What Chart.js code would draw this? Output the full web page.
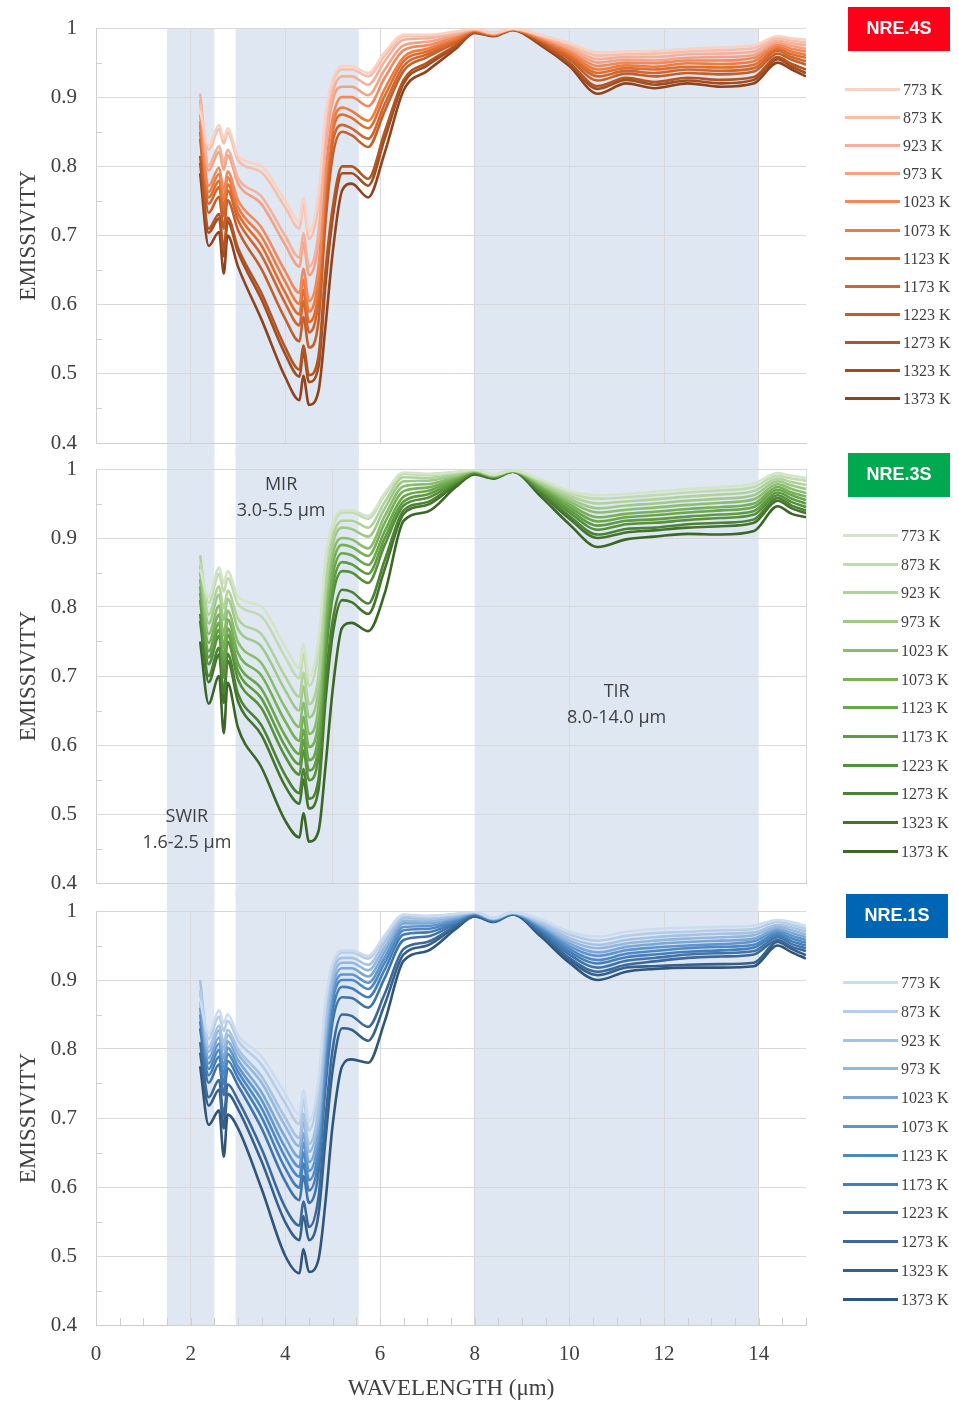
<!DOCTYPE html>
<html>
<head>
<meta charset="utf-8">
<title>Emissivity spectra</title>
<script src="https://cdn.jsdelivr.net/npm/chart.js@4.4.1/dist/chart.umd.min.js"></script>
<style>
  html, body { margin: 0; padding: 0; background: #ffffff; }
  #figure { position: relative; width: 959px; height: 1403px; overflow: hidden; }
  #figure canvas { position: absolute; left: 0; }
</style>
</head>
<body>
<div id="figure">
  <canvas id="panel4s" width="959" height="456" style="top:0px"></canvas>
  <canvas id="panel3s" width="959" height="449" style="top:448px"></canvas>
  <canvas id="panel1s" width="959" height="513" style="top:890px"></canvas>
</div>
<script>
// wavelength (µm) shared by every curve
const wavelength = [2.2, 2.38, 2.6, 2.7, 2.78, 3.0, 3.5, 4.0, 4.3, 4.38, 4.5, 4.7, 4.85, 5.0, 5.2, 5.4, 5.75, 6.1, 6.5, 7.0,
  7.6, 8.0, 8.4, 8.8, 9.4, 10.0, 10.6, 11.2, 11.8, 12.5, 13.2, 13.9, 14.4, 14.7, 15.0];

const temperatures = ['773 K', '873 K', '923 K', '973 K', '1023 K', '1073 K', '1123 K', '1173 K', '1223 K', '1273 K', '1323 K', '1373 K'];

// spectral windows (µm)
const bandRanges = [[1.5, 2.5], [2.95, 5.55], [8, 14]];
const bandLabels = [
  { lines: ['SWIR', '1.6-2.5 μm'], x: 1.92, y: 0.496 },
  { lines: ['MIR', '3.0-5.5 μm'], x: 3.91, y: 0.977 },
  { lines: ['TIR', '8.0-14.0 μm'], x: 11.0, y: 0.677 }
];

const xTicksEven = [0, 2, 4, 6, 8, 10, 12, 14];
const xTicksFive = [0, 5, 10, 15];

// NRE.4S, one row per temperature
const emissivity4S = [
  [0.88, 0.83, 0.86, 0.84, 0.855, 0.815, 0.80, 0.75, 0.72, 0.755, 0.705, 0.76, 0.875, 0.925, 0.945, 0.945, 0.935, 0.965, 0.99, 0.99, 0.995, 0.999, 0.993, 0.999, 0.99, 0.978, 0.965, 0.966, 0.967, 0.97, 0.972, 0.975, 0.988, 0.985, 0.983],
  [0.89, 0.824, 0.854, 0.833, 0.849, 0.809, 0.791, 0.74, 0.71, 0.745, 0.695, 0.745, 0.865, 0.92, 0.94, 0.94, 0.93, 0.96, 0.988, 0.988, 0.994, 0.999, 0.993, 0.999, 0.989, 0.976, 0.96, 0.962, 0.963, 0.966, 0.968, 0.971, 0.985, 0.982, 0.979],
  [0.905, 0.801, 0.829, 0.805, 0.824, 0.783, 0.756, 0.699, 0.668, 0.703, 0.655, 0.705, 0.835, 0.905, 0.93, 0.93, 0.918, 0.952, 0.983, 0.985, 0.992, 0.998, 0.992, 0.999, 0.988, 0.973, 0.955, 0.958, 0.958, 0.962, 0.963, 0.966, 0.982, 0.978, 0.975],
  [0.895, 0.794, 0.821, 0.795, 0.816, 0.775, 0.745, 0.686, 0.655, 0.69, 0.643, 0.69, 0.825, 0.895, 0.915, 0.915, 0.903, 0.94, 0.975, 0.98, 0.99, 0.998, 0.992, 0.999, 0.987, 0.97, 0.95, 0.954, 0.953, 0.957, 0.958, 0.961, 0.979, 0.974, 0.97],
  [0.875, 0.772, 0.798, 0.765, 0.793, 0.751, 0.711, 0.648, 0.617, 0.652, 0.605, 0.655, 0.79, 0.87, 0.9, 0.9, 0.887, 0.928, 0.968, 0.975, 0.988, 0.997, 0.991, 0.999, 0.986, 0.967, 0.945, 0.95, 0.949, 0.953, 0.953, 0.957, 0.976, 0.97, 0.966],
  [0.865, 0.763, 0.789, 0.752, 0.784, 0.741, 0.698, 0.633, 0.601, 0.636, 0.59, 0.64, 0.78, 0.86, 0.885, 0.88, 0.866, 0.912, 0.958, 0.97, 0.985, 0.997, 0.991, 0.998, 0.984, 0.964, 0.94, 0.946, 0.944, 0.949, 0.948, 0.952, 0.973, 0.966, 0.961],
  [0.86, 0.755, 0.779, 0.74, 0.774, 0.732, 0.685, 0.617, 0.586, 0.621, 0.575, 0.62, 0.765, 0.85, 0.875, 0.87, 0.855, 0.902, 0.952, 0.966, 0.983, 0.996, 0.99, 0.998, 0.983, 0.961, 0.935, 0.942, 0.94, 0.944, 0.943, 0.947, 0.97, 0.962, 0.957],
  [0.85, 0.746, 0.77, 0.728, 0.765, 0.722, 0.671, 0.602, 0.57, 0.605, 0.56, 0.605, 0.75, 0.835, 0.86, 0.855, 0.84, 0.89, 0.945, 0.962, 0.981, 0.996, 0.99, 0.998, 0.982, 0.958, 0.93, 0.938, 0.935, 0.94, 0.938, 0.942, 0.967, 0.958, 0.952],
  [0.84, 0.733, 0.756, 0.71, 0.751, 0.708, 0.651, 0.579, 0.547, 0.582, 0.538, 0.575, 0.72, 0.815, 0.85, 0.845, 0.828, 0.88, 0.938, 0.958, 0.979, 0.995, 0.99, 0.998, 0.981, 0.955, 0.924, 0.934, 0.93, 0.935, 0.933, 0.937, 0.963, 0.954, 0.947],
  [0.815, 0.71, 0.731, 0.68, 0.726, 0.682, 0.616, 0.538, 0.506, 0.541, 0.498, 0.525, 0.65, 0.74, 0.8, 0.8, 0.782, 0.85, 0.925, 0.95, 0.975, 0.994, 0.989, 0.998, 0.978, 0.95, 0.916, 0.928, 0.922, 0.928, 0.925, 0.929, 0.958, 0.948, 0.94],
  [0.805, 0.704, 0.725, 0.67, 0.72, 0.676, 0.607, 0.528, 0.496, 0.531, 0.488, 0.51, 0.63, 0.725, 0.79, 0.79, 0.772, 0.84, 0.92, 0.946, 0.973, 0.994, 0.989, 0.998, 0.977, 0.948, 0.912, 0.925, 0.918, 0.924, 0.92, 0.925, 0.955, 0.944, 0.935],
  [0.79, 0.685, 0.705, 0.645, 0.70, 0.655, 0.578, 0.495, 0.462, 0.497, 0.455, 0.475, 0.57, 0.675, 0.765, 0.775, 0.755, 0.82, 0.91, 0.938, 0.97, 0.993, 0.988, 0.997, 0.975, 0.945, 0.905, 0.92, 0.913, 0.92, 0.915, 0.92, 0.95, 0.94, 0.93]
];

// NRE.3S
const emissivity3S = [
  [0.855, 0.815, 0.857, 0.835, 0.852, 0.815, 0.80, 0.742, 0.712, 0.747, 0.70, 0.752, 0.87, 0.92, 0.94, 0.94, 0.932, 0.965, 0.995, 0.993, 0.996, 0.999, 0.992, 0.998, 0.985, 0.968, 0.962, 0.964, 0.967, 0.971, 0.974, 0.979, 0.994, 0.99, 0.987],
  [0.865, 0.806, 0.848, 0.822, 0.842, 0.804, 0.786, 0.727, 0.697, 0.732, 0.686, 0.735, 0.86, 0.915, 0.937, 0.937, 0.928, 0.962, 0.993, 0.991, 0.995, 0.999, 0.992, 0.998, 0.983, 0.965, 0.957, 0.959, 0.962, 0.966, 0.969, 0.974, 0.99, 0.986, 0.983],
  [0.875, 0.789, 0.83, 0.798, 0.824, 0.783, 0.76, 0.699, 0.67, 0.705, 0.659, 0.70, 0.83, 0.90, 0.925, 0.925, 0.915, 0.952, 0.988, 0.987, 0.993, 0.998, 0.991, 0.998, 0.981, 0.961, 0.95, 0.953, 0.956, 0.96, 0.963, 0.968, 0.986, 0.981, 0.977],
  [0.86, 0.776, 0.818, 0.781, 0.812, 0.768, 0.742, 0.679, 0.65, 0.685, 0.64, 0.68, 0.815, 0.89, 0.915, 0.913, 0.902, 0.943, 0.982, 0.983, 0.991, 0.998, 0.991, 0.998, 0.979, 0.957, 0.943, 0.947, 0.95, 0.954, 0.957, 0.962, 0.982, 0.976, 0.971],
  [0.85, 0.761, 0.802, 0.759, 0.795, 0.749, 0.718, 0.654, 0.626, 0.661, 0.616, 0.655, 0.795, 0.875, 0.90, 0.898, 0.885, 0.932, 0.975, 0.978, 0.989, 0.997, 0.99, 0.997, 0.977, 0.953, 0.937, 0.941, 0.944, 0.948, 0.951, 0.956, 0.978, 0.971, 0.965],
  [0.84, 0.748, 0.789, 0.741, 0.782, 0.733, 0.70, 0.634, 0.606, 0.641, 0.597, 0.635, 0.775, 0.86, 0.89, 0.887, 0.874, 0.922, 0.968, 0.973, 0.987, 0.997, 0.99, 0.997, 0.975, 0.949, 0.93, 0.935, 0.938, 0.942, 0.945, 0.95, 0.974, 0.966, 0.96],
  [0.83, 0.736, 0.777, 0.724, 0.769, 0.718, 0.681, 0.613, 0.587, 0.622, 0.578, 0.615, 0.76, 0.845, 0.878, 0.875, 0.861, 0.91, 0.96, 0.968, 0.985, 0.996, 0.989, 0.997, 0.973, 0.945, 0.924, 0.93, 0.933, 0.937, 0.94, 0.945, 0.97, 0.962, 0.955],
  [0.82, 0.727, 0.767, 0.711, 0.76, 0.707, 0.667, 0.598, 0.572, 0.607, 0.563, 0.598, 0.745, 0.83, 0.865, 0.862, 0.848, 0.90, 0.953, 0.963, 0.983, 0.996, 0.989, 0.997, 0.971, 0.941, 0.918, 0.925, 0.927, 0.931, 0.934, 0.939, 0.966, 0.957, 0.95],
  [0.81, 0.717, 0.758, 0.698, 0.75, 0.695, 0.653, 0.583, 0.557, 0.592, 0.549, 0.582, 0.725, 0.815, 0.852, 0.85, 0.835, 0.89, 0.947, 0.958, 0.981, 0.995, 0.988, 0.997, 0.969, 0.937, 0.912, 0.92, 0.922, 0.926, 0.929, 0.934, 0.962, 0.952, 0.945],
  [0.79, 0.70, 0.741, 0.674, 0.732, 0.674, 0.628, 0.556, 0.53, 0.565, 0.522, 0.55, 0.69, 0.78, 0.825, 0.822, 0.805, 0.868, 0.94, 0.952, 0.979, 0.994, 0.988, 0.996, 0.966, 0.932, 0.905, 0.913, 0.915, 0.92, 0.922, 0.927, 0.958, 0.947, 0.94],
  [0.78, 0.691, 0.731, 0.661, 0.722, 0.663, 0.614, 0.54, 0.515, 0.55, 0.508, 0.535, 0.665, 0.76, 0.81, 0.807, 0.79, 0.855, 0.935, 0.948, 0.977, 0.994, 0.987, 0.996, 0.964, 0.928, 0.90, 0.908, 0.911, 0.915, 0.917, 0.922, 0.954, 0.943, 0.936],
  [0.75, 0.66, 0.70, 0.617, 0.69, 0.625, 0.567, 0.49, 0.466, 0.501, 0.46, 0.475, 0.57, 0.68, 0.77, 0.777, 0.765, 0.82, 0.925, 0.938, 0.974, 0.992, 0.986, 0.996, 0.96, 0.92, 0.887, 0.898, 0.902, 0.906, 0.905, 0.91, 0.946, 0.935, 0.93]
];

// NRE.1S
const emissivity1S = [
  [0.87, 0.823, 0.856, 0.838, 0.85, 0.82, 0.789, 0.735, 0.705, 0.74, 0.695, 0.755, 0.87, 0.925, 0.943, 0.943, 0.935, 0.965, 0.995, 0.993, 0.996, 0.999, 0.99, 0.998, 0.988, 0.97, 0.963, 0.97, 0.974, 0.976, 0.977, 0.979, 0.987, 0.984, 0.978],
  [0.885, 0.815, 0.847, 0.826, 0.841, 0.812, 0.777, 0.721, 0.691, 0.726, 0.682, 0.74, 0.86, 0.92, 0.94, 0.94, 0.931, 0.962, 0.993, 0.991, 0.995, 0.999, 0.99, 0.998, 0.985, 0.966, 0.957, 0.964, 0.968, 0.97, 0.972, 0.974, 0.984, 0.98, 0.974],
  [0.90, 0.803, 0.834, 0.809, 0.828, 0.80, 0.76, 0.70, 0.671, 0.706, 0.662, 0.715, 0.84, 0.91, 0.932, 0.932, 0.922, 0.955, 0.99, 0.988, 0.994, 0.998, 0.989, 0.998, 0.983, 0.961, 0.951, 0.958, 0.962, 0.965, 0.967, 0.969, 0.98, 0.976, 0.97],
  [0.885, 0.796, 0.827, 0.799, 0.821, 0.793, 0.751, 0.688, 0.659, 0.694, 0.651, 0.70, 0.825, 0.90, 0.925, 0.925, 0.914, 0.948, 0.986, 0.985, 0.992, 0.998, 0.989, 0.997, 0.981, 0.957, 0.946, 0.953, 0.957, 0.96, 0.962, 0.965, 0.977, 0.972, 0.966],
  [0.87, 0.787, 0.817, 0.786, 0.811, 0.784, 0.737, 0.672, 0.643, 0.678, 0.636, 0.685, 0.81, 0.89, 0.917, 0.917, 0.905, 0.941, 0.982, 0.982, 0.99, 0.997, 0.988, 0.997, 0.979, 0.953, 0.94, 0.948, 0.952, 0.955, 0.957, 0.96, 0.974, 0.968, 0.962],
  [0.86, 0.779, 0.808, 0.774, 0.802, 0.775, 0.726, 0.657, 0.629, 0.664, 0.623, 0.67, 0.795, 0.88, 0.908, 0.908, 0.896, 0.933, 0.977, 0.978, 0.988, 0.997, 0.988, 0.997, 0.977, 0.949, 0.935, 0.943, 0.947, 0.95, 0.952, 0.956, 0.971, 0.964, 0.958],
  [0.85, 0.771, 0.799, 0.762, 0.793, 0.767, 0.714, 0.643, 0.615, 0.65, 0.61, 0.655, 0.78, 0.87, 0.90, 0.90, 0.887, 0.925, 0.972, 0.974, 0.986, 0.996, 0.987, 0.997, 0.975, 0.945, 0.929, 0.938, 0.942, 0.946, 0.948, 0.951, 0.968, 0.96, 0.954],
  [0.84, 0.762, 0.789, 0.749, 0.783, 0.758, 0.701, 0.627, 0.599, 0.634, 0.595, 0.64, 0.765, 0.855, 0.89, 0.888, 0.875, 0.915, 0.966, 0.969, 0.984, 0.996, 0.987, 0.996, 0.973, 0.941, 0.924, 0.933, 0.937, 0.941, 0.943, 0.947, 0.965, 0.956, 0.95],
  [0.83, 0.751, 0.778, 0.733, 0.772, 0.747, 0.685, 0.608, 0.581, 0.616, 0.577, 0.62, 0.745, 0.84, 0.875, 0.874, 0.86, 0.903, 0.958, 0.963, 0.982, 0.995, 0.986, 0.996, 0.971, 0.937, 0.918, 0.928, 0.932, 0.937, 0.939, 0.942, 0.962, 0.952, 0.946],
  [0.81, 0.73, 0.755, 0.702, 0.749, 0.726, 0.655, 0.57, 0.544, 0.579, 0.542, 0.585, 0.70, 0.80, 0.85, 0.848, 0.832, 0.88, 0.945, 0.955, 0.979, 0.994, 0.985, 0.996, 0.968, 0.932, 0.912, 0.922, 0.927, 0.932, 0.934, 0.937, 0.958, 0.948, 0.942],
  [0.795, 0.718, 0.741, 0.685, 0.735, 0.713, 0.637, 0.549, 0.523, 0.558, 0.523, 0.56, 0.67, 0.77, 0.83, 0.828, 0.812, 0.865, 0.937, 0.95, 0.977, 0.993, 0.985, 0.995, 0.966, 0.929, 0.907, 0.918, 0.92, 0.922, 0.923, 0.925, 0.955, 0.945, 0.936],
  [0.775, 0.69, 0.711, 0.644, 0.705, 0.685, 0.597, 0.50, 0.475, 0.51, 0.477, 0.495, 0.58, 0.69, 0.775, 0.785, 0.78, 0.84, 0.928, 0.942, 0.974, 0.992, 0.984, 0.995, 0.963, 0.925, 0.90, 0.912, 0.916, 0.918, 0.918, 0.92, 0.95, 0.94, 0.931]
];

const colors4S = ['#fad2c4', '#f8bea8', '#f6b09a', '#f3a286', '#f0895e', '#ed7c3f', '#df6d2d', '#d0662f', '#c35f2b', '#b35522', '#a34c20', '#8e431e'];
const colors3S = ['#d3e5c7', '#c1dbb0', '#b0d29b', '#9fc989', '#8bbd70', '#76b156', '#69a74a', '#5f9b42', '#56903b', '#4c8234', '#43742d', '#3a6628'];
const colors1S = ['#cbdcf0', '#b6cde9', '#a7c3e4', '#94b7de', '#7ba7d6', '#5f95cc', '#4c88c3', '#457eb6', '#4074a8', '#3b6a9a', '#36608b', '#30557a'];

const GRID = '#d9d9d9';
const TEXT = '#404040';
const SERIF = '"Liberation Serif", "Times New Roman", serif';

// shaded spectral windows, behind everything
const bandPlugin = {
  id: 'bands',
  beforeDraw(chart, args, opts) {
    const { ctx, chartArea, scales: { x } } = chart;
    const top = opts.fromTop ? 0 : chartArea.top;
    const bottom = opts.toBottom ? chart.height : chartArea.bottom;
    ctx.save();
    ctx.fillStyle = '#dfe7f3';
    bandRanges.forEach(([a, b]) => {
      const x1 = x.getPixelForValue(a);
      const x2 = x.getPixelForValue(b);
      ctx.fillRect(x1, top, x2 - x1, bottom - top);
    });
    ctx.restore();
  }
};

// small inside tick marks (Excel style)
const minorTickPlugin = {
  id: 'minorTicks',
  beforeDatasetsDraw(chart, args, opts) {
    const { ctx, chartArea: { left, bottom }, scales: { x, y } } = chart;
    ctx.save();
    ctx.strokeStyle = '#cfcfcf';
    ctx.lineWidth = 1;
    ctx.beginPath();
    for (let v = 0.45; v < 1; v += 0.1) {
      const py = Math.round(y.getPixelForValue(v)) + 0.5;
      ctx.moveTo(left, py);
      ctx.lineTo(left + 6, py);
    }
    if (opts.xStep) {
      for (let v = opts.xStep; v <= 15.001; v += opts.xStep) {
        const px = Math.round(x.getPixelForValue(v)) + 0.5;
        ctx.moveTo(px, bottom);
        ctx.lineTo(px, bottom - 7);
      }
    }
    ctx.stroke();
    ctx.restore();
  }
};

const bandLabelPlugin = {
  id: 'bandLabels',
  afterDatasetsDraw(chart, args, opts) {
    if (!opts.show) return;
    const { ctx, scales: { x, y } } = chart;
    ctx.save();
    ctx.fillStyle = TEXT;
    ctx.font = '18px "Open Sans", "Noto Sans", sans-serif';
    ctx.textAlign = 'center';
    ctx.textBaseline = 'middle';
    bandLabels.forEach(item => {
      const px = x.getPixelForValue(item.x);
      const py = y.getPixelForValue(item.y);
      item.lines.forEach((t, k) => ctx.fillText(t, px, py + k * 26));
    });
    ctx.restore();
  }
};

// coloured sample tag and temperature key on the right
const sideLegendPlugin = {
  id: 'sideLegend',
  afterDraw(chart, args, opts) {
    const { ctx } = chart;
    ctx.save();
    ctx.fillStyle = opts.badgeColor;
    ctx.fillRect(opts.badgeX, opts.badgeY, 102, 44);
    ctx.fillStyle = '#ffffff';
    ctx.font = 'bold 18px "Liberation Sans", Arial, sans-serif';
    ctx.textAlign = 'center';
    ctx.textBaseline = 'middle';
    ctx.fillText(opts.badge, opts.badgeX + 51, opts.badgeY + 22);

    chart.data.datasets.forEach((ds, i) => {
      const yy = Math.round(opts.itemY + i * opts.itemStep) + 0.5;
      ctx.strokeStyle = ds.borderColor;
      ctx.lineWidth = 3;
      ctx.beginPath();
      ctx.moveTo(opts.itemX, yy);
      ctx.lineTo(opts.itemX + 55, yy);
      ctx.stroke();
      ctx.fillStyle = TEXT;
      ctx.font = '16px ' + SERIF;
      ctx.textAlign = 'left';
      ctx.fillText(ds.label, opts.itemX + 58, yy + 1);
    });
    ctx.restore();
  }
};

function makePanel(cfg) {
  const datasets = temperatures.map((t, i) => ({
    label: t,
    data: wavelength.map((w, j) => ({ x: w, y: cfg.values[i][j] })),
    borderColor: cfg.colors[i],
    backgroundColor: cfg.colors[i],
    borderWidth: 2.6,
    pointRadius: 0,
    cubicInterpolationMode: 'monotone',
    fill: false
  }));

  return new Chart(document.getElementById(cfg.canvas), {
    type: 'line',
    data: { datasets },
    options: {
      responsive: false,
      animation: false,
      events: [],
      layout: { padding: { top: cfg.padTop, bottom: cfg.padBottom, left: 0, right: 153 } },
      scales: {
        x: {
          type: 'linear',
          min: 0,
          max: 15,
          afterBuildTicks: scale => { scale.ticks = cfg.xTicks.map(v => ({ value: v })); },
          afterFit: scale => { scale.height = cfg.xHeight; },
          grid: { color: GRID, drawTicks: false },
          border: { color: '#cfcfcf' },
          ticks: {
            display: cfg.showX,
            padding: 17,
            color: TEXT,
            font: { family: SERIF, size: 21 },
            callback: v => String(v)
          },
          title: {
            display: cfg.showX,
            text: 'WAVELENGTH (μm)',
            color: TEXT,
            font: { family: SERIF, size: 23 },
            padding: { top: 0, bottom: 0 }
          }
        },
        y: {
          min: 0.4,
          max: 1,
          afterFit: scale => {
            scale.width = 96;
            scale.paddingTop = 0;
            scale.paddingBottom = 0;
          },
          grid: { color: GRID, drawTicks: false },
          border: { color: '#cfcfcf' },
          ticks: {
            stepSize: 0.1,
            padding: 19,
            color: TEXT,
            font: { family: SERIF, size: 21 },
            callback: v => String(+v.toFixed(2))
          },
          title: {
            display: true,
            text: 'EMISSIVITY',
            color: TEXT,
            font: { family: SERIF, size: 23 },
            padding: { top: 15, bottom: 0 }
          }
        }
      },
      plugins: {
        legend: { display: false },
        tooltip: { enabled: false },
        bands: { fromTop: cfg.bandFromTop, toBottom: cfg.bandToBottom },
        minorTicks: { xStep: cfg.minorX },
        bandLabels: { show: cfg.bandText },
        sideLegend: cfg.legend
      }
    },
    plugins: [bandPlugin, minorTickPlugin, bandLabelPlugin, sideLegendPlugin]
  });
}

makePanel({
  canvas: 'panel4s', values: emissivity4S, colors: colors4S,
  padTop: 28, padBottom: 13, xTicks: xTicksEven, showX: false, xHeight: 0,
  bandFromTop: false, bandToBottom: true, minorX: 0, bandText: false,
  legend: { badge: 'NRE.4S', badgeColor: '#ff0018', badgeX: 848, badgeY: 7, itemX: 845, itemY: 89, itemStep: 28.1 }
});

makePanel({
  canvas: 'panel3s', values: emissivity3S, colors: colors3S,
  padTop: 21, padBottom: 14, xTicks: xTicksFive, showX: false, xHeight: 0,
  bandFromTop: true, bandToBottom: true, minorX: 0, bandText: true,
  legend: { badge: 'NRE.3S', badgeColor: '#00a84f', badgeX: 848, badgeY: 5, itemX: 843, itemY: 87, itemStep: 28.7 }
});

makePanel({
  canvas: 'panel1s', values: emissivity1S, colors: colors1S,
  padTop: 21, padBottom: 0, xTicks: xTicksEven, showX: true, xHeight: 78,
  bandFromTop: true, bandToBottom: false, minorX: 0.5, bandText: false,
  legend: { badge: 'NRE.1S', badgeColor: '#0066b3', badgeX: 846, badgeY: 4, itemX: 843, itemY: 92, itemStep: 28.8 }
});
</script>
</body>
</html>
